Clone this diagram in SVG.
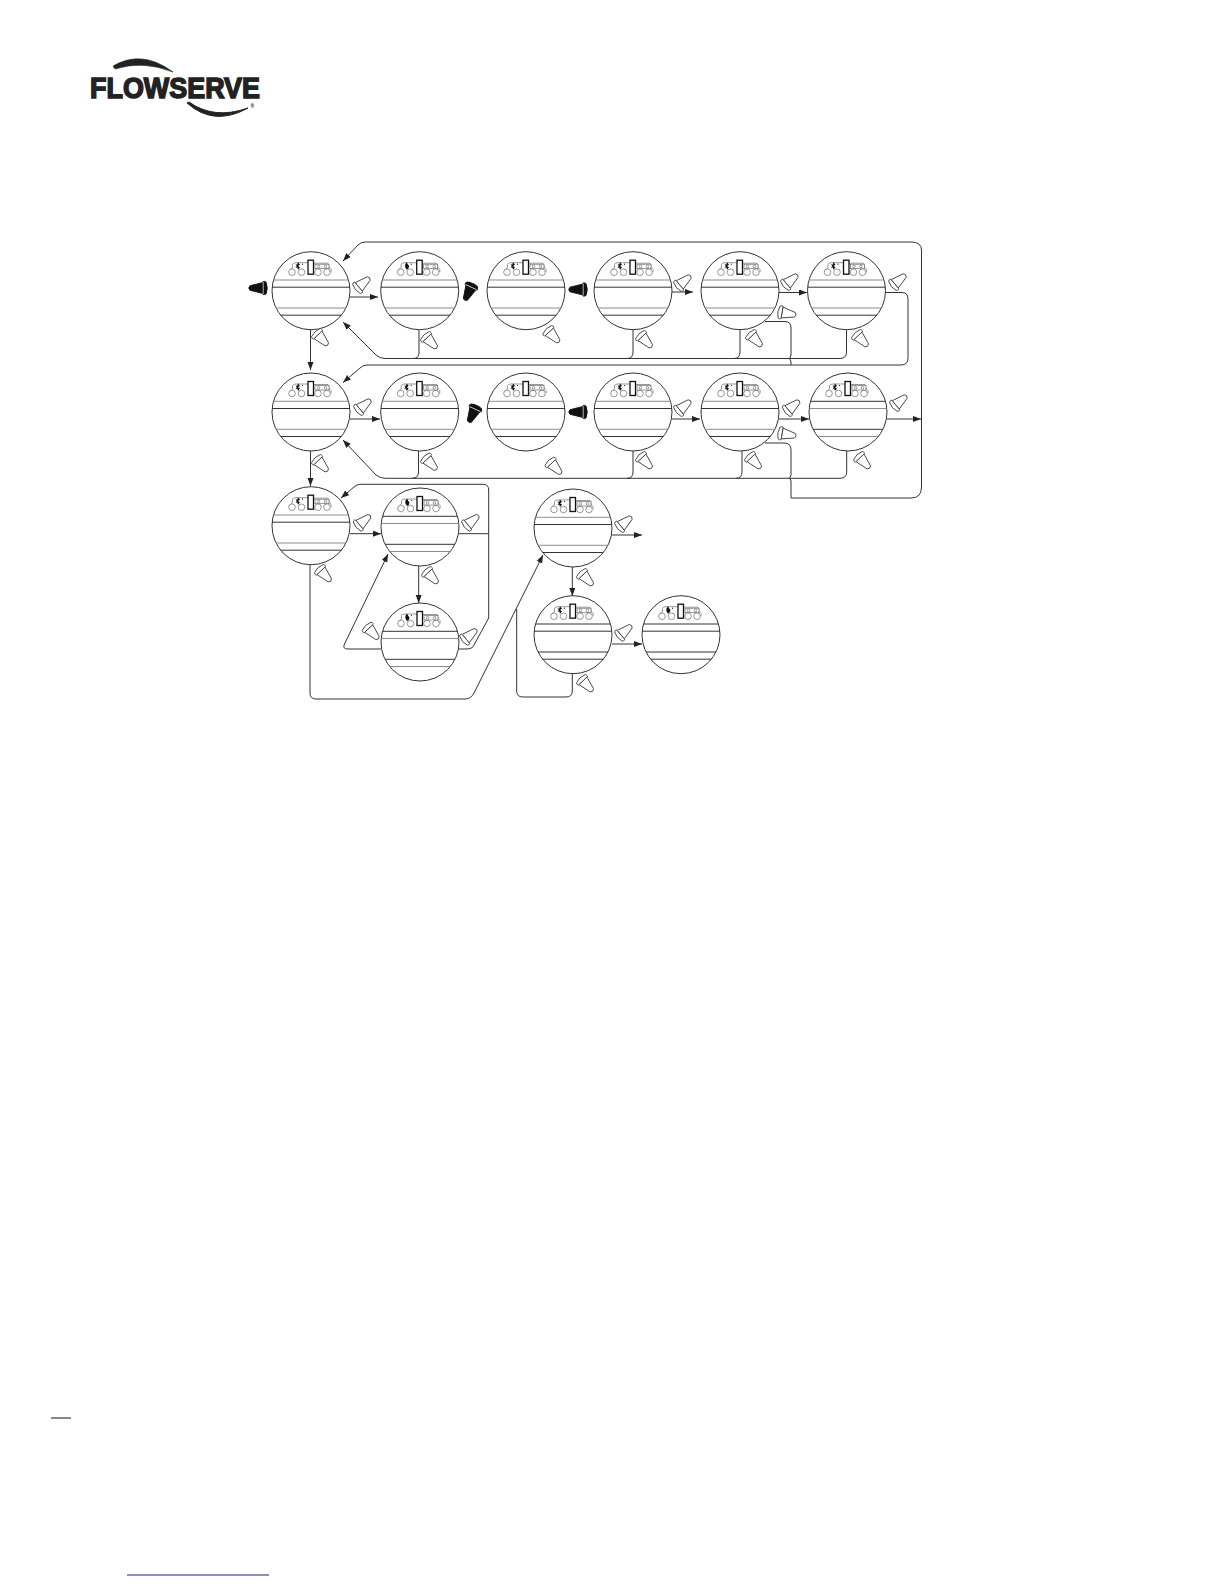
<svg xmlns="http://www.w3.org/2000/svg" width="1224" height="1584" viewBox="0 0 1224 1584">
<style>
.bg{fill:#fff}
.ring{fill:#fff;stroke:#333;stroke-width:1}
.a{stroke:var(--a,#8c8c8c);stroke-width:1}
.b{stroke:var(--b,#333);stroke-width:1}
.gk{--a:#8c8c8c;--b:#333}
.kg{--a:#333;--b:#8c8c8c}
.kk{--a:#333;--b:#333}
.ic{fill:#fff;stroke:#555;stroke-width:.6}
.bar{fill:#fff;stroke:#111;stroke-width:1.3}
.gl{fill:#111}
.btn path{fill:#fff;stroke:#444;stroke-width:.9;stroke-linejoin:round}
.blk path{fill:#111;stroke:#111;stroke-width:.9;stroke-linejoin:round}
.blk line{stroke:#fff;stroke-width:.7}
#connectors path{fill:none;stroke:#333;stroke-width:1}
.arr{marker-end:url(#ah)}
.logo{font-family:"Liberation Sans",Arial,sans-serif;font-weight:700;fill:#222}
</style>
<defs>
<marker id="ah" markerUnits="userSpaceOnUse" markerWidth="9" markerHeight="7" refX="8" refY="3" orient="auto"><path d="M0,0L8,3L0,6Z" fill="#222" stroke="none"/></marker>
<g id="disp">
<circle class="ring" r="39"/>
<line class="a" x1="-37.5" x2="37.5" y1="-10.7" y2="-10.7"/>
<line class="b" x1="-38.8" x2="38.8" y1="-3.5" y2="-3.5"/>
<line class="a" x1="-35" x2="35" y1="17.3" y2="17.3"/>
<line class="b" x1="-30.4" x2="30.4" y1="24.5" y2="24.5"/>
<path class="ic" d="M-22,-18.5 Q-21,-22 -18.500,-23 V-26.500 Q-18,-28 -15,-28 H-3 M2.500,-27.500 H17 L18.500,-23 Q21,-22 20,-18.500"/>
<circle class="ic" cx="-19" cy="-18.5" r="3.3"/>
<circle class="ic" cx="-9.5" cy="-18.5" r="3.3"/>
<circle class="ic" cx="7" cy="-18.5" r="3.3"/>
<circle class="ic" cx="16" cy="-18.5" r="3.3"/>
<rect class="bar" x="-3" y="-30.5" width="5.5" height="14"/>
<rect class="ic" x="4" y="-26.5" width="14" height="4.5"/>
<circle class="ic" cx="7.5" cy="-24.2" r="1.3"/>
<circle class="ic" cx="14.5" cy="-24.2" r="1.3"/>
</g>
<g id="star"><path class="gl" d="M-13,-28.500 L-11,-26 L-13,-24.800 L-11,-23.500 L-13,-21 L-13.800,-23.500 L-15.500,-22.800 L-14.300,-24.800 L-15.500,-26.800 L-13.800,-26Z"/><circle class="gl" cx="-8.500" cy="-26.500" r=".6"/></g>
<g id="moon"><path class="gl" d="M-13,-28.500 Q-16.500,-25 -13,-21 Q-10.500,-22 -10.500,-24.800 Q-12,-26 -13,-28.500Z"/><circle class="gl" cx="-8.500" cy="-26.500" r=".6"/></g>
<g id="btn" class="btn"><path d="M-5.500,3 L-2.300,-10 Q0,-12.500 2.300,-10 L5.500,3Z"/><path d="M-6,3 H6 Q7,3 6.600,4.500 L6,6 Q0,8.500 -6,6 L-6.600,4.500 Q-7,3 -6,3Z"/></g>
<g id="bbt" class="blk"><path d="M-5.500,3 L-2.300,-10 Q0,-12.500 2.300,-10 L5.500,3Z"/><path d="M-6,3 H6 Q7,3 6.600,4.500 L6,6 Q0,8.500 -6,6 L-6.600,4.500 Q-7,3 -6,3Z"/><line x1="-6" x2="6" y1="3.200" y2="3.200"/></g>
</defs>
<rect class="bg" width="1224" height="1584"/>

<g id="logo">
<path d="M113,66 Q142,49 173,72 Q143,60 115,69Z" fill="#222" stroke="#222" stroke-width=".6"/>
<path d="M187,103 Q214,127 248,108 Q214,120 189,102Z" fill="#222" stroke="#222" stroke-width="1"/>
<text class="logo" x="90" y="98" font-size="29" textLength="170" lengthAdjust="spacingAndGlyphs" stroke="#222" stroke-width="1.5">FLOWSERVE</text>
<text class="logo" x="250.500" y="107.500" font-size="5">®</text>
</g>

<g id="n1" class="gk" transform="translate(311,290.700)"><use href="#disp"/><use href="#star"/><use href="#btn" transform="translate(50,-5.700) rotate(50)"/><use href="#btn" transform="translate(9,46.300) rotate(137)"/><use href="#bbt" transform="translate(-51,-2.700) rotate(-90)"/></g>
<g id="n2" class="gk" transform="translate(419.700,290.700)"><use href="#disp"/><use href="#moon"/><use href="#bbt" transform="translate(50,-0.700) rotate(205)"/><use href="#btn" transform="translate(9.300,49.300) rotate(137)"/></g>
<g id="n3" class="gk" transform="translate(526,290.700)"><use href="#disp"/><use href="#star"/><use href="#btn" transform="translate(25.400,43.300) rotate(137)"/><use href="#bbt" transform="translate(54,-1.200) rotate(-90)"/></g>
<g id="n4" class="gk" transform="translate(633,290.700)"><use href="#disp"/><use href="#star"/><use href="#btn" transform="translate(49,-7.700) rotate(50)"/><use href="#btn" transform="translate(11,48.300) rotate(137)"/></g>
<g id="n5" class="gk" transform="translate(740,290.700)"><use href="#disp"/><use href="#star"/><use href="#btn" transform="translate(49,-8.700) rotate(50)"/><use href="#btn" transform="translate(14,47.300) rotate(137)"/><use href="#btn" transform="translate(45,22.300) rotate(100)"/></g>
<g id="n6" class="gk" transform="translate(846.500,290.700)"><use href="#disp"/><use href="#star"/><use href="#btn" transform="translate(50.500,-8.700) rotate(50)"/><use href="#btn" transform="translate(13.500,47.300) rotate(137)"/></g>

<g id="n7" class="gk" transform="translate(311,412)"><use href="#disp"/><use href="#star"/><use href="#btn" transform="translate(51,-5) rotate(50)"/><use href="#btn" transform="translate(9,51) rotate(137)"/></g>
<g id="n8" class="gk" transform="translate(419.700,412)"><use href="#disp"/><use href="#star"/><use href="#bbt" transform="translate(54,0) rotate(205)"/><use href="#btn" transform="translate(9.300,49.500) rotate(137)"/></g>
<g id="n9" class="gk" transform="translate(526,412)"><use href="#disp"/><use href="#star"/><use href="#btn" transform="translate(27.500,53.600) rotate(137)"/><use href="#bbt" transform="translate(54,0) rotate(-90)"/></g>
<g id="n10" class="gk" transform="translate(633,412)"><use href="#disp"/><use href="#star"/><use href="#btn" transform="translate(49,-4) rotate(50)"/><use href="#btn" transform="translate(11,48) rotate(137)"/></g>
<g id="n11" class="gk" transform="translate(740,412)"><use href="#disp"/><use href="#star"/><use href="#btn" transform="translate(50.700,-4) rotate(50)"/><use href="#btn" transform="translate(13,48) rotate(137)"/><use href="#btn" transform="translate(45,22) rotate(100)"/></g>
<g id="n12" class="kg" transform="translate(848,412)"><use href="#disp"/><use href="#star"/><use href="#btn" transform="translate(50,-9) rotate(50)"/><use href="#btn" transform="translate(14,48) rotate(137)"/></g>

<g id="n13" class="gk" transform="translate(311,525.700)"><use href="#disp"/><use href="#star"/><use href="#btn" transform="translate(50.700,-3) rotate(50)"/><use href="#btn" transform="translate(12,47.300) rotate(137)"/></g>
<g id="n14" class="kg" transform="translate(420,527)"><use href="#disp"/><use href="#moon"/><use href="#btn" transform="translate(50,-4.300) rotate(50)"/><use href="#btn" transform="translate(10,48) rotate(137)"/></g>
<g id="n15" class="kg" transform="translate(420,642)"><use href="#disp"/><use href="#moon"/><use href="#btn" transform="translate(-49.300,-11.300) rotate(137)"/><use href="#btn" transform="translate(48,-5.300) rotate(50)"/></g>
<g id="n16" class="gk" transform="translate(573,528)"><use href="#disp"/><use href="#star"/><use href="#btn" transform="translate(50,-4) rotate(50)"/><use href="#btn" transform="translate(12,49) rotate(137)"/></g>
<g id="n17" class="kk" transform="translate(573,634.700)"><use href="#disp"/><use href="#star"/><use href="#btn" transform="translate(50,-2) rotate(50)"/><use href="#btn" transform="translate(12,48.300) rotate(137)"/></g>
<g id="n18" class="kk" transform="translate(681,634.700)"><use href="#disp"/><use href="#moon"/></g>

<g id="connectors">
<path class="arr" d="M350,297H378"/>
<path class="arr" d="M310.500,330V370"/>
<path class="arr" d="M672,292H693"/>
<path class="arr" d="M779,292.500H807"/>
<path class="arr" d="M419,330V353Q419,358.500 413,358.500H385Q380,358.500 376,355L343,322"/>
<path d="M414,358.500H840Q846.500,358.500 846.500,352V330"/>
<path d="M627,358.500Q633,358.500 633,352V330"/>
<path d="M734,358.500Q740,358.500 740,352V330"/>
<path d="M765,321.500H785Q791,321.500 791,328V355Q788.500,358.500 791,362V365"/>
<path class="arr" d="M885,292.500H902Q908,292.500 908,299V358Q908,365 901,365H367Q363,365 360,368L343,382.500"/>
<path d="M365,242H911Q921.500,242 921.500,250V487Q921.500,498 911,498H791V481Q788.500,478 791,475V450Q791,443 784,443H765"/>
<path class="arr" d="M365,242Q361,242 358,245L343,261"/>
<path class="arr" d="M350,419H380"/>
<path class="arr" d="M672,419H700"/>
<path class="arr" d="M779,419H809"/>
<path class="arr" d="M887,419H921"/>
<path class="arr" d="M310.500,451V486"/>
<path class="arr" d="M418.500,451V472Q418.500,478.300 412,478.300H385Q380,478.300 376,475L343,440"/>
<path d="M412,478.300H840Q846.700,478.300 846.700,472V451"/>
<path d="M627,478.300Q633,478.300 633,472V451"/>
<path d="M736,478.300Q742,478.300 742,472V451"/>
<path class="arr" d="M350,533.700H381"/>
<path class="arr" d="M483,484.300H360Q357,484.300 354,487L341,498"/>
<path d="M483,484.300Q488.700,484.300 488.700,490V618L474,645Q472.500,649 466,649H458"/>
<path d="M459,533.700H488.700"/>
<path class="arr" d="M418.700,566V603"/>
<path class="arr" d="M381,649H348Q342,649 344.500,644L388,554"/>
<path class="arr" d="M310,565V693Q310,699 316,699H465Q471,699 474,693L543,555"/>
<path class="arr" d="M612,535H642"/>
<path class="arr" d="M572.300,567V596"/>
<path class="arr" d="M612,644H642"/>
<path d="M572.300,674V691Q572.300,697 566,697H523Q516.700,697 516.700,691V609"/>
</g>

<g id="footer">
<line x1="51" x2="71" y1="1418" y2="1418" stroke="#111" stroke-width="1"/>
<line x1="127" x2="269" y1="1575" y2="1575" stroke="#1a1a8c" stroke-width="1"/>
</g>
</svg>
